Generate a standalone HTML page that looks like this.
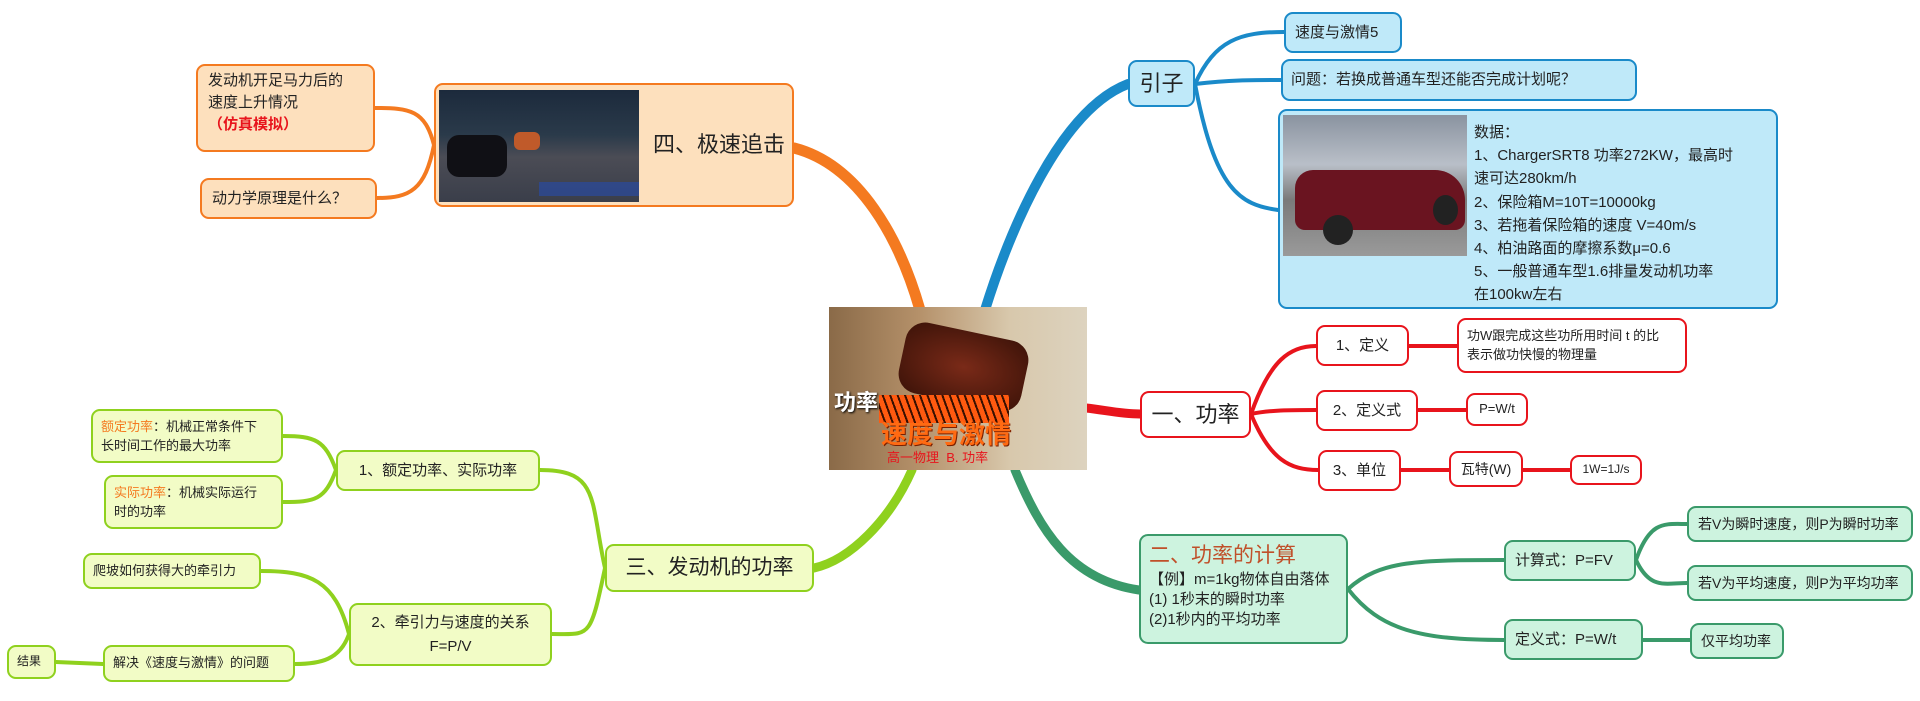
<!DOCTYPE html>
<html><head><meta charset="utf-8"><style>
body{margin:0;width:1920px;height:701px;background:#fff;position:relative;overflow:hidden;font-family:"Liberation Sans","Noto Sans CJK SC",sans-serif;}
.n{position:absolute;box-sizing:border-box;border-radius:9px;display:flex;align-items:center;color:#222;line-height:1.45;}
.o{border:2.5px solid #f47a20;background:#fde0bd;}
.b{border:2.5px solid #1a8ac9;background:#bfe9f9;}
.r{border:2.5px solid #e8141c;background:#fff;}
.g{border:2.5px solid #3a9a6a;background:#cdf3df;}
.l{border:2.5px solid #8fd11e;background:#f2fcc6;}
.c{justify-content:center;text-align:center;}
svg{position:absolute;left:0;top:0;}
</style></head><body>
<svg width="1920" height="701" fill="none" stroke-linecap="round">
<!-- main branches -->
<path d="M920 310 C 900 240 860 165 794 148" stroke="#f47a20" stroke-width="11"/>
<path d="M985 310 C 1010 230 1060 110 1128 84" stroke="#1a8ac9" stroke-width="10"/>
<path d="M1086 408 C 1105 410 1120 414 1140 414" stroke="#e8141c" stroke-width="9"/>
<path d="M1015 470 C 1040 530 1070 580 1139 590" stroke="#3a9a6a" stroke-width="9"/>
<path d="M912 470 C 890 520 850 560 814 568" stroke="#8fd11e" stroke-width="9"/>
<!-- orange subs -->
<path d="M434 145 C 425 110 410 108 375 108" stroke="#f47a20" stroke-width="4"/>
<path d="M434 145 C 425 190 410 198 377 198" stroke="#f47a20" stroke-width="4"/>
<!-- blue subs -->
<path d="M1195 84 C 1215 40 1240 32 1284 32" stroke="#1a8ac9" stroke-width="4"/>
<path d="M1195 84 C 1230 80 1250 80 1281 80" stroke="#1a8ac9" stroke-width="4"/>
<path d="M1195 84 C 1215 190 1240 205 1278 210" stroke="#1a8ac9" stroke-width="4"/>
<!-- red subs -->
<path d="M1251 414 C 1270 360 1290 346 1316 346" stroke="#e8141c" stroke-width="4"/>
<path d="M1251 414 C 1270 410 1290 410 1316 410" stroke="#e8141c" stroke-width="4"/>
<path d="M1251 414 C 1270 460 1290 470 1318 470" stroke="#e8141c" stroke-width="4"/>
<path d="M1409 346 L1457 346 M1418 410 L1466 410 M1401 470 L1449 470 M1523 470 L1570 470" stroke="#e8141c" stroke-width="4"/>
<!-- teal subs -->
<path d="M1348 589 C 1380 560 1420 560 1504 560" stroke="#3a9a6a" stroke-width="4"/>
<path d="M1348 589 C 1380 630 1420 640 1504 640" stroke="#3a9a6a" stroke-width="4"/>
<path d="M1636 560 C 1650 520 1665 524 1687 524 M1636 560 C 1650 590 1665 583 1687 583 M1643 640 L1690 640" stroke="#3a9a6a" stroke-width="4"/>
<!-- lime subs -->
<path d="M605 568 C 590 500 600 470 540 470" stroke="#8fd11e" stroke-width="4"/>
<path d="M605 568 C 590 640 590 634 552 634" stroke="#8fd11e" stroke-width="4"/>
<path d="M336 470 C 325 440 315 436 283 436 M336 470 C 325 500 315 502 283 502" stroke="#8fd11e" stroke-width="4"/>
<path d="M349 634 C 335 580 310 571 261 571 M349 634 C 340 660 320 664 295 664 M103 664 L56 662" stroke="#8fd11e" stroke-width="4"/>
</svg>

<!-- center image -->
<div style="position:absolute;left:829px;top:307px;width:258px;height:163px;background:linear-gradient(90deg,#8a6a48 0%,#b5916a 35%,#d8c8ac 70%,#ddd3bf 100%);overflow:hidden;">
<div style="position:absolute;left:72px;top:24px;width:125px;height:72px;border-radius:20px;background:radial-gradient(ellipse at 50% 50%,#7a2a18,#3a1208);transform:rotate(12deg);"></div>
<div style="position:absolute;left:50px;top:88px;width:130px;height:28px;background:repeating-linear-gradient(70deg,#ff5a10 0 5px,#3a1000 5px 7px);"></div>
<div style="position:absolute;left:5px;top:78px;color:#fff;font-weight:bold;font-size:22px;text-shadow:1px 1px 2px #000;">功率</div>
<div style="position:absolute;left:52px;top:107px;color:#ff6a12;font-weight:bold;font-size:26px;text-shadow:1px 1px 0 #7a2000;">速度与激情</div>
<div style="position:absolute;left:58px;top:140px;color:#e8141c;font-size:13px;">高一物理&nbsp; B. 功率</div>
</div>

<!-- orange -->
<div class="n o" style="left:196px;top:64px;width:179px;height:88px;padding:0 10px;font-size:15px;display:block;padding-top:4px;">发动机开足马力后的<br>速度上升情况<br><span style="color:#e8141c;font-weight:bold;">（仿真模拟）</span></div>
<div class="n o" style="left:200px;top:178px;width:177px;height:41px;padding:0 10px;font-size:15px;">动力学原理是什么？</div>
<div class="n o" style="left:434px;top:83px;width:360px;height:124px;">
<div style="position:absolute;left:3px;top:5px;width:200px;height:112px;background:linear-gradient(180deg,#1c2a3c 0%,#2a3a4a 40%,#4b4c55 60%,#3a3e4a 100%);"><div style="position:absolute;left:8px;top:45px;width:60px;height:42px;border-radius:12px;background:#101015;"></div><div style="position:absolute;left:75px;top:42px;width:26px;height:18px;border-radius:6px;background:#c05a2a;"></div><div style="position:absolute;left:100px;top:92px;width:100px;height:14px;background:#2a4aa0;opacity:.7"></div></div>
<div style="position:absolute;left:208px;width:150px;text-align:center;font-size:22px;">四、极速追击</div></div>

<!-- blue -->
<div class="n b c" style="left:1128px;top:60px;width:67px;height:47px;font-size:22px;">引子</div>
<div class="n b" style="left:1284px;top:12px;width:118px;height:41px;padding-left:9px;font-size:15px;">速度与激情5</div>
<div class="n b" style="left:1281px;top:59px;width:356px;height:42px;padding-left:8px;font-size:15px;">问题：若换成普通车型还能否完成计划呢？</div>
<div class="n b" style="left:1278px;top:109px;width:500px;height:200px;display:block;">
<div style="position:absolute;left:3px;top:4px;width:184px;height:141px;background:linear-gradient(180deg,#8a93a0 0%,#b9bfc8 35%,#7a7a7a 60%,#9a9a9a 100%);"><div style="position:absolute;left:12px;top:55px;width:170px;height:60px;border-radius:18px 30px 10px 10px;background:#6a1420;"></div><div style="position:absolute;left:40px;top:100px;width:30px;height:30px;border-radius:50%;background:#222;"></div><div style="position:absolute;left:150px;top:80px;width:25px;height:30px;border-radius:50%;background:#222;"></div></div>
<div style="position:absolute;left:194px;top:10px;font-size:15px;line-height:23.2px;color:#222;">数据：<br>1、ChargerSRT8 功率272KW，最高时<br>速可达280km/h<br>2、保险箱M=10T=10000kg<br>3、若拖着保险箱的速度 V=40m/s<br>4、柏油路面的摩擦系数μ=0.6<br>5、一般普通车型1.6排量发动机功率<br>在100kw左右</div></div>

<!-- red -->
<div class="n r c" style="left:1140px;top:391px;width:111px;height:47px;font-size:22px;">一、功率</div>
<div class="n r c" style="left:1316px;top:325px;width:93px;height:41px;font-size:15px;">1、定义</div>
<div class="n r" style="left:1457px;top:318px;width:230px;height:55px;padding-left:8px;font-size:13px;line-height:1.4;">功W跟完成这些功所用时间 t 的比<br>表示做功快慢的物理量</div>
<div class="n r c" style="left:1316px;top:390px;width:102px;height:41px;font-size:15px;">2、定义式</div>
<div class="n r c" style="left:1466px;top:393px;width:62px;height:33px;font-size:13px;">P=W/t</div>
<div class="n r c" style="left:1318px;top:450px;width:83px;height:41px;font-size:15px;">3、单位</div>
<div class="n r c" style="left:1449px;top:451px;width:74px;height:36px;font-size:14px;">瓦特(W)</div>
<div class="n r c" style="left:1570px;top:455px;width:72px;height:30px;font-size:12px;">1W=1J/s</div>

<!-- teal -->
<div class="n g" style="left:1139px;top:534px;width:209px;height:110px;display:block;padding:6px 0 0 8px;font-size:15px;line-height:20px;">
<div style="font-size:21px;color:#c0502a;line-height:28px;">二、功率的计算</div>【例】m=1kg物体自由落体<br>(1) 1秒末的瞬时功率<br>(2)1秒内的平均功率</div>
<div class="n g" style="left:1504px;top:540px;width:132px;height:41px;padding-left:9px;font-size:15px;">计算式：P=FV</div>
<div class="n g" style="left:1687px;top:506px;width:226px;height:36px;padding-left:9px;font-size:14px;">若V为瞬时速度，则P为瞬时功率</div>
<div class="n g" style="left:1687px;top:565px;width:226px;height:36px;padding-left:9px;font-size:14px;">若V为平均速度，则P为平均功率</div>
<div class="n g" style="left:1504px;top:619px;width:139px;height:41px;padding-left:9px;font-size:15px;">定义式：P=W/t</div>
<div class="n g" style="left:1690px;top:623px;width:94px;height:36px;padding-left:9px;font-size:14px;">仅平均功率</div>

<!-- lime -->
<div class="n l c" style="left:605px;top:544px;width:209px;height:48px;font-size:21px;">三、发动机的功率</div>
<div class="n l c" style="left:336px;top:450px;width:204px;height:41px;font-size:15px;">1、额定功率、实际功率</div>
<div class="n l" style="left:91px;top:409px;width:192px;height:54px;padding-left:8px;font-size:13px;line-height:1.5;"><div><span style="color:#f47a20">额定功率</span>：机械正常条件下<br>长时间工作的最大功率</div></div>
<div class="n l" style="left:104px;top:475px;width:179px;height:54px;padding-left:8px;font-size:13px;line-height:1.5;"><div><span style="color:#f47a20">实际功率</span>：机械实际运行<br>时的功率</div></div>
<div class="n l c" style="left:349px;top:603px;width:203px;height:63px;font-size:15px;line-height:1.55;">2、牵引力与速度的关系<br>F=P/V</div>
<div class="n l" style="left:83px;top:553px;width:178px;height:36px;padding-left:8px;font-size:13px;">爬坡如何获得大的牵引力</div>
<div class="n l" style="left:103px;top:645px;width:192px;height:37px;padding-left:8px;font-size:13px;">解决《速度与激情》的问题</div>
<div class="n l" style="left:7px;top:645px;width:49px;height:34px;padding-left:8px;font-size:12px;">结果</div>
</body></html>
